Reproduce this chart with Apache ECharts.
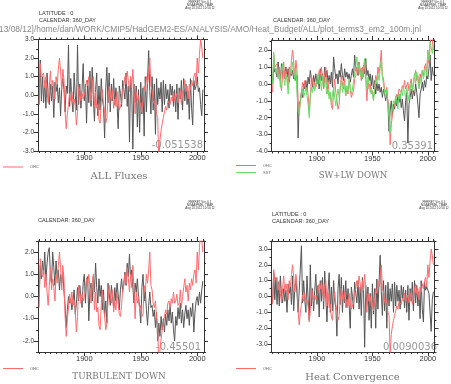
<!DOCTYPE html>
<html><head><meta charset="utf-8">
<script src="https://cdn.jsdelivr.net/npm/echarts@6/dist/echarts.min.js"></script>
<style>html,body{margin:0;padding:0;background:#fff}#c{width:451px;height:384px}</style>
</head><body><div id="c"></div>
<script>
// ---- data (annual, 1860..2005) ----
const startYear = 1860;
const ohc = [
-0.5,1.7,1.0,0.9,1.2,0.4,1.0,0.2,-0.4,0.5,
1.3,0.3,0.8,0.4,-0.2,1.0,0.6,1.4,2.0,1.3,
0.3,1.4,0.8,-0.9,-1.8,-1.0,-0.5,0.1,-0.3,0.2,
-0.4,-0.2,-0.6,-1.6,-0.9,0.5,0.2,-0.3,0.1,-0.2,
0.0,0.3,0.8,0.5,1.0,0.4,-0.3,0.6,1.0,-0.6,
0.2,-0.7,-0.5,-1.3,-1.5,-0.4,0.3,-0.5,-0.9,-1.5,
-1.2,-0.2,0.5,0.0,-0.3,0.3,-0.7,-0.2,-0.6,0.2,
-0.3,-0.8,-0.9,-0.4,0.3,0.5,1.0,0.6,1.3,0.8,
0.2,1.0,0.4,1.4,0.3,-1.0,0.2,-0.3,0.0,-0.6,
-0.4,-0.9,-0.8,0.5,0.2,1.0,0.6,1.2,2.0,0.5,
0.3,-0.3,-0.5,-0.2,-1.0,-1.2,-3.6,-2.4,-1.9,-1.5,
-1.2,-0.9,-0.6,-0.8,-0.3,-0.2,-0.5,-0.1,-0.3,0.2,
-0.3,-0.2,0.1,-0.4,-0.3,0.3,-0.5,0.0,0.4,0.8,
0.2,0.5,-0.2,0.6,0.3,0.8,0.5,1.0,1.2,0.6,
2.0,1.2,2.2,3.0,2.6,2.0];
const allFluxes = [
-0.5,1.9,-0.3,1.0,-0.4,0.8,-0.7,1.2,0.0,-0.5,
0.6,-0.3,0.5,-1.2,0.7,0.2,0.6,-0.4,0.4,-1.1,
0.4,0.9,0.3,-0.9,0.5,0.1,2.7,-0.6,0.9,-0.3,
-0.9,1.2,0.0,-0.8,2.7,-0.5,0.6,-0.7,0.3,1.7,
-0.3,0.6,-1.5,0.8,-0.4,1.3,-0.6,1.5,-0.2,-1.4,
0.3,1.2,-1.1,0.5,-0.8,0.9,-0.2,-0.6,-2.3,0.4,
1.5,-0.4,1.2,-0.9,0.6,-0.3,0.9,-0.5,0.4,-0.4,
-1.8,0.5,0.1,-0.6,0.8,0.3,-0.2,1.2,-0.6,0.5,
-2.5,1.0,0.3,-2.9,0.6,-0.4,0.5,-1.7,0.3,-2.0,
0.7,-1.0,0.4,-2.2,1.0,-0.9,0.8,2.4,0.2,-1.0,
1.0,-0.8,0.6,-2.1,0.9,-0.5,0.4,-0.2,0.7,-0.9,
0.8,-0.5,0.6,-0.2,0.3,-0.7,0.6,0.0,0.5,-0.6,
0.3,-0.9,0.6,-1.3,0.4,-0.2,0.8,-0.8,0.9,-0.3,
0.6,-0.5,0.2,-1.3,0.9,-0.7,-1.6,0.8,0.3,0.5,
1.0,0.2,0.4,-0.5,-1.1,0.3];
const swlwDown = [
0.0,1.0,0.7,0.9,0.4,1.3,0.6,0.2,1.2,0.5,
0.8,0.3,1.0,0.4,0.9,0.1,0.7,0.5,0.8,0.3,
0.6,0.2,0.5,-3.2,-1.2,-1.0,-0.5,-0.8,0.0,-0.3,
0.2,-0.4,0.4,0.0,0.8,0.3,-0.2,0.5,0.1,0.6,
0.0,0.4,-0.3,0.9,0.2,0.6,-0.2,1.0,0.4,0.8,
0.1,0.5,0.0,0.7,-0.2,1.6,0.9,0.3,0.6,0.0,
0.8,0.4,1.2,0.5,0.2,0.9,0.4,0.7,0.3,0.6,
0.1,0.5,0.9,0.4,1.7,0.8,1.0,0.5,1.3,0.6,
0.9,0.3,1.1,0.6,1.5,0.5,0.8,0.2,0.6,-0.1,
0.5,-0.3,0.2,-0.6,0.1,-0.4,0.0,-0.5,-0.2,-0.8,
-0.3,-0.6,-1.0,-0.5,-1.2,-2.8,-1.6,-1.0,-1.8,-1.2,
-1.5,-0.9,-1.3,-0.7,-1.1,-0.6,-1.4,-0.9,-1.6,-2.2,
-1.0,-0.5,-3.5,-1.2,-0.8,-0.3,-0.9,-0.4,-0.7,0.0,
-0.5,-1.2,-2.0,-0.6,-0.3,0.1,-0.4,0.2,-0.2,0.5,
0.3,0.9,1.7,0.2,1.0,0.5];
const sst = [
0.0,1.9,1.0,0.6,0.9,0.3,0.6,-0.2,0.8,1.2,
0.4,-0.1,0.6,0.2,-0.6,0.4,0.9,0.6,1.3,0.8,
0.2,0.9,-0.4,-1.6,-1.8,-1.0,-0.6,-0.3,-0.8,-0.5,
-0.2,-0.7,-1.2,-2.0,-0.8,-0.2,-0.5,0.0,-0.4,-0.1,
0.2,0.6,0.0,0.3,-0.4,0.5,0.1,-0.2,0.4,-0.6,
-0.3,-0.9,-0.5,-1.2,-0.6,-0.2,-0.8,-1.3,-0.7,-0.3,
-0.8,-0.2,0.2,-0.5,0.1,-0.3,-0.7,-0.1,-0.4,0.3,
-0.2,-0.6,-0.3,0.2,0.6,1.0,1.6,0.8,1.2,0.5,
0.9,0.3,1.0,1.5,0.6,-0.3,0.4,0.0,-0.5,-0.2,
-0.6,-1.0,-0.4,0.3,0.0,0.6,0.2,0.9,1.4,0.4,
0.0,-0.5,-0.8,-0.3,-1.2,-2.0,-2.9,-2.0,-1.4,-1.0,
-1.2,-0.7,-1.0,-1.5,-0.6,-0.9,-0.4,-0.7,-0.2,-0.5,
-0.8,-0.2,-0.6,-1.0,-0.3,0.1,-0.4,0.2,0.6,0.0,
0.7,0.2,-0.3,0.4,0.0,0.8,0.3,0.6,1.0,0.5,
2.0,1.4,2.5,2.6,1.8,2.3];
const turbulentDown = [
0.0,1.4,0.8,1.6,1.0,2.0,0.7,1.5,2.0,2.2,
1.0,0.6,2.0,1.3,0.5,1.6,0.8,1.2,0.3,1.0,
0.6,1.1,0.2,-0.4,-1.4,-0.6,0.0,-0.3,-0.1,-0.6,
-0.2,0.3,-0.8,-0.3,0.4,-0.2,0.5,0.0,-0.5,0.6,
1.0,-0.3,0.8,0.9,-1.1,0.3,0.6,-0.2,0.9,0.2,
1.5,0.4,-0.3,0.8,0.0,0.5,-0.6,0.3,-0.9,-0.2,
-1.2,0.6,0.2,-0.4,0.5,0.0,-0.5,0.4,-0.2,0.6,
0.1,-0.6,0.3,0.8,0.2,0.6,1.1,0.5,1.5,0.9,
1.9,0.8,1.2,0.4,-0.3,0.6,0.2,0.8,0.0,-0.5,
-1.2,0.4,1.0,-0.2,0.3,-0.6,-1.3,-0.4,0.2,-0.5,
-0.4,-0.9,-0.6,-1.4,-0.7,-2.0,-1.2,-1.8,-0.9,-1.5,
-1.0,-1.6,-0.8,-1.3,-0.6,-1.1,-0.4,-1.2,-0.7,-1.5,
-2.0,-0.9,-1.3,-0.5,-1.0,-0.3,-1.2,-0.6,-1.4,-0.8,
-0.4,-1.0,-0.6,-1.3,-0.5,-0.9,-0.3,-1.6,-0.7,-0.2,
0.0,-0.4,0.2,-0.3,0.3,0.7];
const heatConvergence = [
-0.4,1.5,-0.2,1.2,-0.5,0.9,-0.6,1.3,0.1,-0.4,
0.5,-0.3,0.4,-1.0,0.8,0.2,0.7,-0.5,1.3,-0.9,
0.5,1.0,0.2,-1.0,0.4,0.3,3.2,-0.4,1.0,-0.2,
-1.0,1.3,-0.1,-1.5,2.0,-0.6,0.5,-0.9,0.4,1.4,
-0.5,0.7,-1.3,1.0,-0.3,1.2,-0.8,1.6,-0.1,-1.6,
0.4,1.5,-1.0,0.6,-0.9,1.0,-0.3,-0.7,-2.5,0.5,
1.4,-0.5,1.2,-1.0,0.7,-0.4,1.0,-0.7,0.5,-0.5,
-2.0,0.6,0.0,-0.8,0.9,0.2,-0.4,1.0,-0.8,0.6,
-1.2,1.2,0.4,-3.2,0.7,-0.5,0.6,-1.5,0.2,-2.0,
0.8,-1.1,0.5,-2.0,1.1,-0.8,0.9,2.6,0.3,-1.2,
1.0,-0.9,0.7,-2.0,0.9,-0.6,0.5,-0.3,0.8,-1.0,
0.9,-0.6,0.7,-0.3,0.4,-0.8,0.7,-0.1,0.6,-0.7,
0.4,-1.0,0.7,-1.5,0.5,-0.3,0.9,-0.9,1.0,-0.4,
0.7,-0.6,0.3,-1.4,1.0,-0.8,-1.6,0.9,0.4,0.6,
0.5,0.2,0.3,-2.2,-0.2,0.3];
const xLabelYears = [1900, 1950, 2000];
const panelTitles = ['ALL Fluxes', 'SW+LW DOWN', 'TURBULENT DOWN', 'Heat Convergence'];
const panelValues = ['-0.051538', '0.35391', '-0.45501', '0.0090036'];
const yLabels1 = [-3, -2, -1, 0, 1, 2, 3];
const yLabels2 = [-4, -3, -2, -1, 0, 1, 2];
const yLabels3 = [-2, -1, 0, 1, 2];
const yLabels4 = [-3, -2, -1, 0, 1, 2, 3];
const pathText = '13/08/12]/home/dan/WORK/CMIP5/HadGEM2-ES/ANALYSIS/AMO/Heat_Budget/ALL/plot_terms3_em2_100m.jnl';

// ---- layout ----
const XMIN = 1859, XMAX = 2006;
const AX = '#333';
const RED = '#ff6b6b', BLK = '#555', GRN = '#66e066';
const panels = [
  {left:38, top:39.5, width:166, height:111.5, ymin:-3, ymax:3, labels:yLabels1},
  {left:271.5, top:40, width:163, height:111.5, ymin:-4, ymax:2.6, labels:yLabels2},
  {left:38, top:241, width:166, height:111, ymin:-2.5, ymax:2.5, labels:yLabels3},
  {left:271.5, top:241, width:163, height:111, ymin:-3.5, ymax:3.5, labels:yLabels4}
];
const years = ohc.map((_, i) => startYear + i);
const pairs = arr => arr.map((v, i) => [years[i], v]);

const xMinor = [];
for (let y = 1860; y <= 2005; y += 5) if (y % 50 !== 0) xMinor.push(y);
function yMinorFor(p) {
  const out = [];
  for (let v = Math.ceil(p.ymin * 2) / 2; v <= p.ymax + 1e-9; v += 0.5) {
    if (Math.abs(v - Math.round(v)) > 1e-6) out.push(+v.toFixed(1));
  }
  return out;
}

const grid = [], xAxis = [], yAxis = [];
panels.forEach((p, gi) => {
  grid.push({left:p.left, top:p.top, width:p.width, height:p.height, containLabel:false});
  const lineStyle = {color: AX, width: 1};
  ['bottom', 'top'].forEach(pos => {
    xAxis.push({gridIndex:gi, type:'value', min:XMIN, max:XMAX, position:pos,
      axisLine:{show:true, onZero:false, lineStyle}, splitLine:{show:false},
      axisTick:{show:true, inside:false, length:4, customValues:xLabelYears, lineStyle},
      axisLabel:{show:pos === 'bottom', customValues:xLabelYears, formatter:v => String(v),
        fontSize:7.5, color:'#333', margin:3, fontFamily:'Liberation Sans'}});
    xAxis.push({gridIndex:gi, type:'value', min:XMIN, max:XMAX, position:pos,
      axisLine:{show:false, onZero:false}, splitLine:{show:false},
      axisTick:{show:true, inside:false, length:2, customValues:xMinor, lineStyle},
      axisLabel:{show:false}});
  });
  const ym = yMinorFor(p);
  ['left', 'right'].forEach(pos => {
    yAxis.push({gridIndex:gi, type:'value', min:p.ymin, max:p.ymax, position:pos,
      axisLine:{show:true, onZero:false, lineStyle}, splitLine:{show:false},
      axisTick:{show:true, inside:false, length:4, customValues:p.labels, lineStyle},
      axisLabel:{show:pos === 'left', customValues:p.labels, formatter:v => v.toFixed(1),
        fontSize:6.5, color:'#333', margin:4, fontFamily:'Liberation Sans'}});
    yAxis.push({gridIndex:gi, type:'value', min:p.ymin, max:p.ymax, position:pos,
      axisLine:{show:false, onZero:false}, splitLine:{show:false},
      axisTick:{show:true, inside:false, length:2, customValues:ym, lineStyle},
      axisLabel:{show:false}});
  });
});

const lineSeries = (name, data, gi, color, z) => ({
  name, type:'line', data:pairs(data), xAxisIndex:gi * 4, yAxisIndex:gi * 4,
  showSymbol:false, symbol:'none', clip:true, z,
  lineStyle:{color, width:1}, itemStyle:{color}, animation:false
});
const series = [
  lineSeries('ALL', allFluxes, 0, BLK, 2), lineSeries('OHC', ohc, 0, RED, 3),
  lineSeries('SWLW', swlwDown, 1, BLK, 2), lineSeries('OHC', ohc, 1, RED, 3), lineSeries('SST', sst, 1, GRN, 4),
  lineSeries('TURB', turbulentDown, 2, BLK, 2), lineSeries('OHC', ohc, 2, RED, 3),
  lineSeries('HC', heatConvergence, 3, BLK, 2), lineSeries('OHC', ohc, 3, RED, 3)
];

const legendBase = {orient:'vertical', icon:'rect', itemWidth:20, itemHeight:1, itemGap:3,
  textStyle:{fontSize:4, color:'#666', fontFamily:'Liberation Sans', padding:[0,0,0,2]}, padding:0, selectedMode:false};
const legend = [
  Object.assign({}, legendBase, {left:3, top:165, data:['OHC']}),
  Object.assign({}, legendBase, {left:236, top:163.5, data:['OHC', 'SST']}),
  Object.assign({}, legendBase, {left:3, top:366.5, data:['OHC']}),
  Object.assign({}, legendBase, {left:236, top:366.5, data:['OHC']})
];

const txt = (x, y, text, size, extra) => ({type:'text', x, y, silent:true,
  style:Object.assign({text, fontSize:size, fill:'#333', fontFamily:'Liberation Sans', verticalAlign:'top'}, extra || {})});
const stamp = (cx, y) => txt(cx, y, 'FERRET Ver. 6.1\nNOAA/PMEL TMAP\nAug 13 2012 10:50:12', 3, {lineHeight:3, align:'center'});
const titleCenters = [[119, 171], [353, 171.5], [119, 372.5], [352.5, 372]];
const titleSizes = [10, 8.6, 8.8, 10];
const graphic = [
  txt(39, 10.5, 'LATITUDE : 0', 5.6),
  txt(39, 17, 'CALENDAR: 360_DAY', 5.6),
  txt(273, 17, 'CALENDAR: 360_DAY', 5.6),
  txt(38, 217.5, 'CALENDAR: 360_DAY', 5.6),
  txt(272, 211.5, 'LATITUDE : 0', 5.6),
  txt(272, 218, 'CALENDAR: 360_DAY', 5.6),
  txt(-1, 25.5, pathText, 8.4, {fill:'#888'}),
  stamp(200, 1), stamp(433, 1), stamp(200, 201), stamp(434, 201)
];
panelTitles.forEach((t, i) => {
  graphic.push(txt(titleCenters[i][0], titleCenters[i][1], t, titleSizes[i], {align:'center', fill:'#777', fontFamily:'DejaVu Serif'}));
});
const valuePos = [[203, 140], [433, 141], [201, 342], [437, 342]];
panelValues.forEach((t, i) => {
  graphic.push(txt(valuePos[i][0], valuePos[i][1], t, 10, {align:'right', fill:'#999', fontFamily:'DejaVu Sans'}));
});

const chart = echarts.init(document.getElementById('c'), null, {renderer:'canvas'});
chart.setOption({animation:false, backgroundColor:'#fff', grid, xAxis, yAxis, series, legend, graphic});
</script></body></html>
